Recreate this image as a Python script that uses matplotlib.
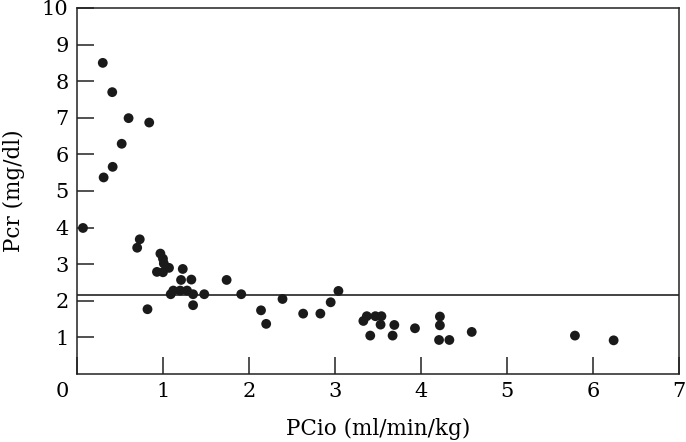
import matplotlib
matplotlib.use('Agg')
import matplotlib.pyplot as plt
from matplotlib.transforms import ScaledTranslation

# PCio (ml/min/kg) vs Pcr (mg/dl)
pcio = [0.07, 0.30, 0.31, 0.41, 0.415, 0.52, 0.60, 0.84, 0.70, 0.73,
        0.82, 0.93, 0.97, 1.00, 1.01, 1.00, 1.07, 1.23, 1.21, 1.33,
        1.74, 1.09, 1.12, 1.20, 1.28, 1.35, 1.35, 1.48, 1.91, 2.14,
        2.20, 2.39, 2.63, 2.83, 2.95, 3.04, 3.33, 3.37, 3.47, 3.54,
        3.53, 3.41, 3.69, 3.67, 3.93, 4.22, 4.22, 4.21, 4.33, 4.59,
        5.79, 6.24]
pcr = [3.99, 8.50, 5.37, 7.70, 5.66, 6.29, 6.99, 6.87, 3.45, 3.68,
       1.77, 2.79, 3.29, 3.15, 3.02, 2.78, 2.90, 2.87, 2.57, 2.58,
       2.57, 2.18, 2.28, 2.28, 2.28, 2.18, 1.88, 2.18, 2.18, 1.74,
       1.37, 2.05, 1.65, 1.65, 1.96, 2.27, 1.45, 1.58, 1.58, 1.58,
       1.35, 1.05, 1.34, 1.05, 1.25, 1.57, 1.33, 0.93, 0.93, 1.15,
       1.05, 0.92]
cutoff = 2.15

xticks = [0, 1, 2, 3, 4, 5, 6, 7]
yticks = [1, 2, 3, 4, 5, 6, 7, 8, 9, 10]

plt.rcParams['font.family'] = 'DejaVu Serif'

fig = plt.figure(figsize=(6.86, 4.42), dpi=100)
ax = fig.add_axes([0.1122, 0.1538, 0.8776, 0.8282])

ax.scatter(pcio, pcr, s=50, color='#1a1a1a', edgecolors='none', zorder=3)
ax.axhline(cutoff, color='#222222', linewidth=1.2)

ax.set_xlim(0, 7)
ax.set_ylim(0, 10)
ax.set_xticks(xticks)
ax.set_yticks(yticks)
ax.tick_params(direction='in', length=12, width=1.1, color='#222222',
               labelsize=15, pad=6)
for sp in ax.spines.values():
    sp.set_linewidth(1.1)
    sp.set_color('#222222')

# origin label sits left of the corner
lab0 = ax.get_xticklabels()[0]
lab0.set_transform(lab0.get_transform() + ScaledTranslation(-0.15, 0, fig.dpi_scale_trans))

ax.set_xlabel('PCio (ml/min/kg)', fontsize=15.5, labelpad=12)
ax.set_ylabel('Pcr (mg/dl)', fontsize=15.5, labelpad=12)

fig.savefig('out.png', dpi=100)
